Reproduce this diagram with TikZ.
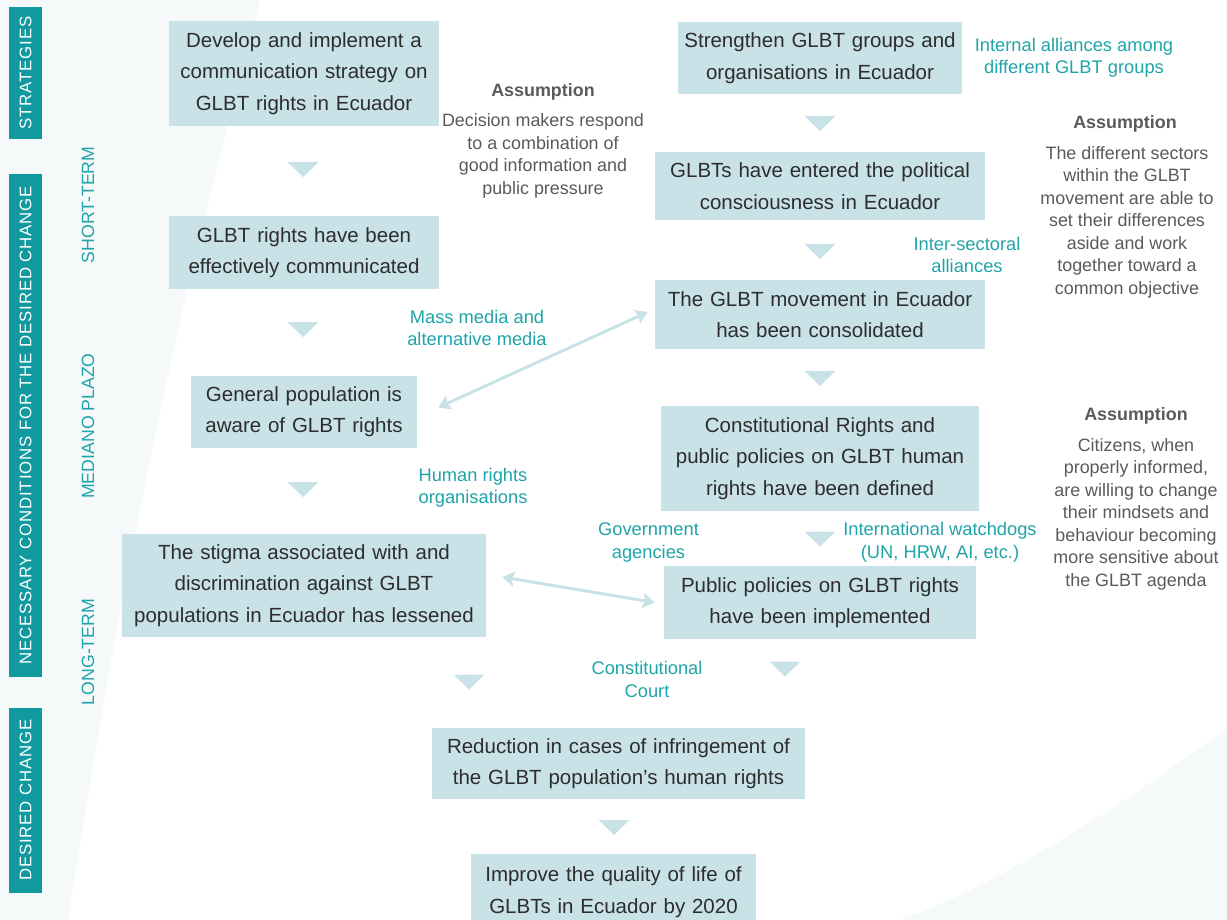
\documentclass[tikz,border=0pt]{standalone}
\usepackage{fontspec}
\setmainfont{Liberation Sans}
\usetikzlibrary{arrows.meta}

\definecolor{boxfill}{RGB}{201,226,231}
\definecolor{bartone}{RGB}{16,153,158}
\definecolor{labeltone}{RGB}{30,164,169}
\definecolor{bodytext}{RGB}{45,45,45}
\definecolor{notetext}{RGB}{90,90,90}
\definecolor{haze}{RGB}{245,249,250}

\begin{document}
\begin{tikzpicture}[x=1pt,y=-1pt,
  box/.style={fill=boxfill, inner sep=0pt, align=center, text=bodytext,
    font=\fontsize{20.5}{31.5}\selectfont},
  link/.style={draw=boxfill, line width=3pt,
    {Stealth[length=12pt,width=15pt,inset=2pt]}-{Stealth[length=12pt,width=15pt,inset=2pt]}},
  tip/.pic={\fill[boxfill] (-15.5,-7.5) -- (15.5,-7.5) -- (0,7.5) -- cycle;},
  bar/.style={fill=bartone},
  barlabel/.style={text=white, rotate=90, inner sep=0pt,
    font=\fontsize{16.8}{20}\selectfont\addfontfeature{LetterSpace=5}},
  phase/.style={text=labeltone, rotate=90, inner sep=0pt,
    font=\fontsize{17.7}{21}\selectfont},
  via/.style={text=labeltone, align=center, inner sep=0pt,
    font=\fontsize{18.3}{22.5}\selectfont},
  notehead/.style={text=notetext, inner sep=0pt,
    font=\fontsize{17.9}{22.5}\selectfont\bfseries},
  note/.style={text=notetext, align=center, inner sep=0pt,
    font=\fontsize{17.9}{22.5}\selectfont}]

\useasboundingbox (0,0) rectangle (1227,920);
\clip (0,0) rectangle (1227,920);

% pale background bands
\fill[haze] (0,0) -- plot[smooth] coordinates {(260,0) (185,300) (122,600) (68,920)} -- (0,920) -- cycle;
\fill[haze] (900,920) .. controls (1000,885) and (1130,800) .. (1227,728) -- (1227,920) -- cycle;

% side bars
\fill[bar] (9,7) rectangle (42,139);
\fill[bar] (9,174) rectangle (42,677);
\fill[bar] (9,708) rectangle (42,893);
\node[barlabel] (lstrat) at (25.5,73) {STRATEGIES};
\node[barlabel] (lcond) at (25.5,425.5) {NECESSARY CONDITIONS FOR THE DESIRED CHANGE};
\node[barlabel] (ldes) at (25.5,800) {DESIRED CHANGE};

\node[phase] (pshort) at (88,205) {SHORT-TERM};
\node[phase] (pmid) at (88,426) {MEDIANO PLAZO};
\node[phase] (plong) at (88,652) {LONG-TERM};

% left column
\node[box, text width=270pt, minimum height=105pt] (s1) at (304,73.5)
  {Develop and implement a\\communication strategy on\\GLBT rights in Ecuador};
\node[box, text width=270pt, minimum height=73pt] (b2) at (304,252.5)
  {GLBT rights have been\\effectively communicated};
\node[box, text width=226pt, minimum height=72pt] (b3) at (304,411.5)
  {General population is\\aware of GLBT rights};
\node[box, text width=364pt, minimum height=103pt] (b4) at (304,585.5)
  {The stigma associated with and\\discrimination against GLBT\\populations in Ecuador has lessened};

% right column
\node[box, text width=284pt, minimum height=72pt] (s2) at (820,58)
  {Strengthen GLBT groups and\\organisations in Ecuador};
\node[box, text width=330pt, minimum height=68pt] (b6) at (820,186)
  {GLBTs have entered the political\\consciousness in Ecuador};
\node[box, text width=330pt, minimum height=69pt] (b7) at (820,314.5)
  {The GLBT movement in Ecuador\\has been consolidated};
\node[box, text width=318pt, minimum height=105pt] (b8) at (820,458.5)
  {Constitutional Rights and\\public policies on GLBT human\\rights have been defined};
\node[box, text width=312pt, minimum height=73pt] (b9) at (820,602.5)
  {Public policies on GLBT rights\\have been implemented};

% outcomes
\node[box, text width=373pt, minimum height=71pt] (g1) at (618.5,763.5)
  {Reduction in cases of infringement of\\the GLBT population’s human rights};
\node[box, text width=285pt, minimum height=76pt] (g2) at (613.5,892)
  {Improve the quality of life of\\GLBTs in Ecuador by 2020};

% downward steps
\pic at (303,169.5) {tip};
\pic at (303,329.5) {tip};
\pic at (303,489.5) {tip};
\pic at (820,123.5) {tip};
\pic at (820,251.5) {tip};
\pic at (820,378.5) {tip};
\pic at (820,539) {tip};
\pic at (469,682) {tip};
\pic at (785,669) {tip};
\pic at (614,827.5) {tip};

% two-way links
\draw[link] ([shift={(21,-4)}]b3.east) -- ([shift={(-7,-2.5)}]b7.west);
\draw[link] ([shift={(16,-8.5)}]b4.east) -- ([shift={(-9,0)}]b9.west);

% actors
\node[via] (v1) at (1074,58) {Internal alliances among\\different GLBT groups};
\node[via] (v2) at (967,255) {Inter-sectoral\\alliances};
\node[via] (v3) at (477,328) {Mass media and\\alternative media};
\node[via] (v4) at (473,488) {Human rights\\organisations};
\node[via] (v5) at (648.5,542.5) {Government\\agencies};
\node[via] (v6) at (940,542.5) {International watchdogs\\(UN, HRW, AI, etc.)};
\node[via] (v7) at (647,679.5) {Constitutional\\Court};

% assumptions
\node[notehead] (a1h) at (543,92) {Assumption};
\node[note] (a1) at (543,156) {Decision makers respond\\to a combination of\\good information and\\public pressure};
\node[notehead] (a2h) at (1125,124) {Assumption};
\node[note] (a2) at (1127,222) {The different sectors\\within the GLBT\\movement are able to\\set their differences\\aside and work\\together toward a\\common objective};
\node[notehead] (a3h) at (1136,416) {Assumption};
\node[note] (a3) at (1136,514) {Citizens, when\\properly informed,\\are willing to change\\their mindsets and\\behaviour becoming\\more sensitive about\\the GLBT agenda};

\end{tikzpicture}
\end{document}
